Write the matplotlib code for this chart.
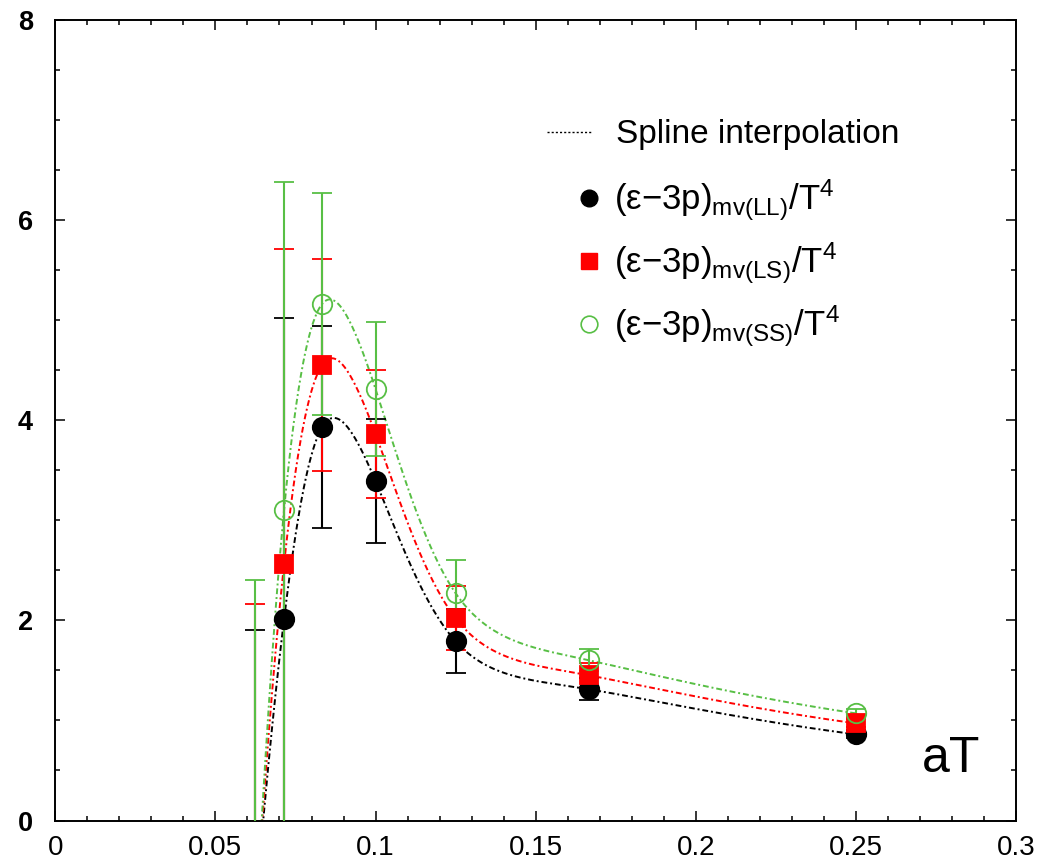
import numpy as np
import matplotlib
matplotlib.use("Agg")
import matplotlib.pyplot as plt
from matplotlib.lines import Line2D
from matplotlib.ticker import MultipleLocator, FuncFormatter

# ── Dados ─────────────────────────────────────────────────────────────────────

aT = [1/16, 1/14, 1/12, 1/10, 1/8, 1/6, 1/4]

ll_val = [-0.9, 2.01, 3.93, 3.39, 1.79, 1.31, 0.86]
ll_err = [2.8, 3.01, 1.01, 0.62, 0.32, 0.11, 0.04]

ls_val = [-1.0, 2.56, 4.55, 3.86, 2.02, 1.45, 0.97]
ls_err = [3.16, 3.15, 1.06, 0.64, 0.32, 0.12, 0.04]

ss_val = [-1.1, 3.10, 5.16, 4.31, 2.27, 1.60, 1.07]
ss_err = [3.5, 3.28, 1.11, 0.67, 0.33, 0.11, 0.04]

labels = [r"(ε$-$3p)$_{\mathrm{mv(LL)}}$/T$^{4}$",
          r"(ε$-$3p)$_{\mathrm{mv(LS)}}$/T$^{4}$",
          r"(ε$-$3p)$_{\mathrm{mv(SS)}}$/T$^{4}$"]

# ── Estilo ────────────────────────────────────────────────────────────────────

GREEN = "#58bf45"
RED = "#ff0000"
BLACK = "#000000"

plt.rcParams.update({
    "font.family": ["Liberation Sans", "DejaVu Sans"],
    "mathtext.default": "regular",
    "mathtext.fontset": "custom",
    "mathtext.rm": "Liberation Sans",
})


def natural_spline(x, y, xs):
    x = np.asarray(x, float)
    y = np.asarray(y, float)
    n = len(x)
    h = np.diff(x)
    A = np.zeros((n, n))
    b = np.zeros(n)
    A[0, 0] = A[-1, -1] = 1.0
    for i in range(1, n - 1):
        A[i, i - 1] = h[i - 1]
        A[i, i] = 2 * (h[i - 1] + h[i])
        A[i, i + 1] = h[i]
        b[i] = 3 * ((y[i + 1] - y[i]) / h[i] - (y[i] - y[i - 1]) / h[i - 1])
    c = np.linalg.solve(A, b)
    idx = np.clip(np.searchsorted(x, xs) - 1, 0, n - 2)
    hi = h[idx]
    bb = (y[idx + 1] - y[idx]) / hi - hi * (2 * c[idx] + c[idx + 1]) / 3
    d = (c[idx + 1] - c[idx]) / (3 * hi)
    dx = xs - x[idx]
    return y[idx] + bb * dx + c[idx] * dx ** 2 + d * dx ** 3


# spline feita em N_t = 1/aT (pontos igualmente espaçados)
nt = 1.0 / np.asarray(aT)[::-1]
nt_fine = np.linspace(nt[0], nt[-1], 800)
xs = 1.0 / nt_fine

fig = plt.figure(figsize=(10.41, 8.63), dpi=100)
ax = fig.add_axes([0.0531, 0.0492, 0.9230, 0.9282])

series = [
    (ll_val, ll_err, BLACK, "o", BLACK, 14),
    (ls_val, ls_err, RED, "s", RED, 12.5),
    (ss_val, ss_err, GREEN, "o", "none", 14),
]

for val, err, col, mk, fc, ms in series:
    ys = natural_spline(nt, np.asarray(val)[::-1], nt_fine)
    ax.plot(xs, ys, color=col, lw=1.4, ls=(0, (3, 1.5, 1, 1.5)), zorder=2)
for val, err, col, mk, fc, ms in series:
    ax.errorbar(aT, val, yerr=err, fmt=mk, color=col, mfc=fc, mec=col,
                ms=ms, mew=1.3, elinewidth=1.5, capsize=7, capthick=1.5,
                zorder=3)

ax.set_xlim(0, 0.3)
ax.set_ylim(0, 8)

ax.xaxis.set_major_locator(MultipleLocator(0.05))
ax.xaxis.set_minor_locator(MultipleLocator(0.01))
ax.yaxis.set_major_locator(MultipleLocator(2))
ax.yaxis.set_minor_locator(MultipleLocator(0.5))
ax.xaxis.set_major_formatter(FuncFormatter(lambda v, _: f"{v:g}"))

ax.tick_params(which="both", direction="in", top=True, right=True, width=1.1)
ax.tick_params(which="major", length=7.5)
ax.tick_params(which="minor", length=3.8)
ax.tick_params(axis="x", labelsize=20, pad=10.5)
ax.tick_params(axis="y", labelsize=19.5, pad=16)
for lab in ax.get_yticklabels():
    lab.set_fontweight("bold")
for sp in ax.spines.values():
    sp.set_linewidth(1.4)

ax.text(0.9625, 0.0605, "aT", transform=ax.transAxes, fontsize=36,
        ha="right", va="baseline")

# legenda: linha da spline
h_line = [Line2D([], [], color=BLACK, lw=1.0, ls=(0, (1.5, 1.5)))]
leg1 = ax.legend(h_line, ["Spline interpolation"], loc="center left",
                 bbox_to_anchor=(0.512, 0.856), frameon=False, fontsize=24,
                 handlelength=1.35, handletextpad=0.7, borderpad=0,
                 borderaxespad=0)
ax.add_artist(leg1)

h_mk = [Line2D([], [], ls="none", marker="o", color=BLACK, ms=12),
        Line2D([], [], ls="none", marker="s", color=RED, ms=11),
        Line2D([], [], ls="none", marker="o", color=GREEN, mfc="none",
               ms=12, mew=1.2)]
ax.legend(h_mk, labels, loc="upper left", bbox_to_anchor=(0.545, 0.802),
          frameon=False, fontsize=25, handlelength=0.6, handletextpad=0.4,
          borderpad=0, borderaxespad=0, labelspacing=0.5)

fig.savefig("out.png", dpi=100)
